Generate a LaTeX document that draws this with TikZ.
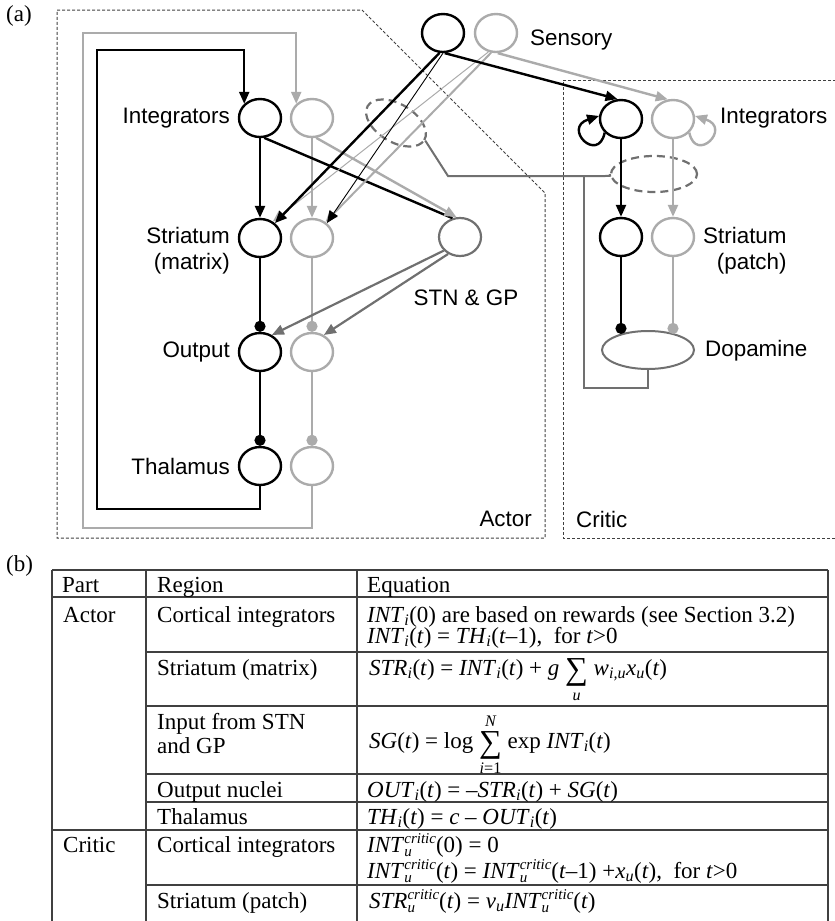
\documentclass[tikz,border=0pt]{standalone}
\usepackage{fontspec}
\usepackage{amsmath}
\setmainfont{Liberation Serif}
\setsansfont{Liberation Sans}
\usetikzlibrary{shapes.geometric,arrows.meta}
\definecolor{lg}{HTML}{ABABAB}
\definecolor{dg}{HTML}{707070}
\definecolor{bx}{HTML}{404040}
\newcommand\SF{\sffamily\fontsize{22.4}{26}\selectfont}
\newcommand\RM{\rmfamily\fontsize{23}{26}\selectfont}
\newcommand\tsum{\mathop{\text{\raisebox{-4pt}{\fontsize{32}{32}\selectfont ∑}}}\limits}
\newcommand\crit{\rlap{\raisebox{-4pt}{\fontsize{15}{15}\selectfont\itshape u}}\raisebox{8.5pt}{\fontsize{15}{15}\selectfont\itshape critic}}
\begin{document}
\begin{tikzpicture}[x=1pt,y=-1pt,
 arrtip/.style={-{Triangle[length=12pt,width=10pt]}},
 balltip/.style={-{Circle[length=11pt]}},
 nb/.style={ellipse, draw=black, line width=2.4pt, minimum width=42pt, minimum height=38pt, inner sep=0pt},
 ng/.style={nb, draw=lg},
 nd/.style={nb, draw=dg, line width=2.2pt},
 lb/.style={font=\SF, inner sep=0pt},
 cb/.style={line width=2.4pt, draw=black},
 cg/.style={line width=2.4pt, draw=lg},
 cd/.style={line width=2.2pt, draw=dg},
 dbox/.style={draw=bx, line width=1pt, dash pattern=on 3pt off 2pt},
 dell/.style={ellipse, draw=dg, line width=2.2pt, dash pattern=on 8pt off 5pt, inner sep=0pt},
 tx/.style={font=\RM, inner sep=0pt, anchor=base west},
 tl/.style={draw=black!75, line width=1.2pt},
]
\useasboundingbox (0,0) rectangle (835,921);

% ---------- panel (a) ----------
\node[font=\RM, inner sep=0pt, anchor=west] (la) at (6,16) {(a)};

\draw[dbox] (57,10) -- (362,10) -- (545,193) -- (545,538) -- (57,538) -- cycle;
\draw[dbox] (836,80) -- (563,80) -- (563,538) -- (836,538);
\node[lb, anchor=east] (lactor) at (532,519) {Actor};
\node[lb, anchor=west] (lcritic) at (576,519) {Critic};

% actor nodes
\node[nb] (ai) at (260,118) {};
\node[nb] (as) at (260,238) {};
\node[nb] (ao) at (260,352) {};
\node[nb] (at) at (260,466) {};
\node[ng] (bi) at (312,118) {};
\node[ng] (bs) at (312,238) {};
\node[ng] (bo) at (312,352) {};
\node[ng] (bt) at (312,466) {};
\node[nb] (sb) at (443,33) {};
\node[ng] (sg) at (496,33) {};
\node[nd] (stn) at (460,237) {};

% critic nodes
\node[nb] (ci) at (621,119) {};
\node[ng] (di) at (673,119) {};
\node[nb] (cs) at (621,237) {};
\node[ng] (ds) at (673,237) {};
\node[ellipse, draw=dg, line width=2pt, minimum width=92pt, minimum height=38pt, inner sep=0pt] (da) at (648,350) {};

% dashed synapse ellipses
\node[dell, minimum width=66pt, minimum height=38pt, rotate=-31] (e1) at (396,123) {};
\node[dell, minimum width=86pt, minimum height=36pt] (e2) at (654,174) {};

% labels
\node[lb, anchor=east] (lint) at (230,118) {Integrators};
\node[lb, anchor=east, align=right] (lstr) at (230,251) {Striatum\\(matrix)};
\node[lb, anchor=east] (lout) at (230,352) {Output};
\node[lb, anchor=east] (lth) at (230,466) {Thalamus};
\node[lb, anchor=west] (lsen) at (530,40) {Sensory};
\node[lb] (lstn) at (466,298) {STN \& GP};
\node[lb, anchor=west] (lcint) at (720,118) {Integrators};
\node[lb, anchor=west, align=right] (lpatch) at (703,251) {Striatum\\(patch)};
\node[lb, anchor=west] (ldop) at (705,351) {Dopamine};

% feedback loops
\draw[cg,arrtip] (bt.south) -- ++(0,42) -| (83,33) -| (bi.138);
\draw[cb,arrtip] (at.south) -- ++(0,23) -| (97,50) -| (ai.138);

% actor verticals
\draw[cb,arrtip] (ai) -- (as);
\draw[cg,arrtip] (bi) -- (bs);
\draw[cb,balltip] (as) -- (ao);
\draw[cg,balltip] (bs) -- (bo);
\draw[cb,balltip] (ao) -- (at);
\draw[cg,balltip] (bo) -- (bt);

% integrators -> STN
\draw[cb] (ai.-78) -- (stn.112);
\draw[cg,arrtip] (bi.-78) -- (stn.100);

% sensory -> striatum
\draw[draw=lg, line width=1pt, arrtip] (sg.-112) -- (as.52);
\draw[draw=lg, line width=2pt, arrtip] (sg.-104) -- (bs.50);
\draw[cb, arrtip] (sb.-100) -- (as.45);
\draw[draw=black, line width=0.9pt, arrtip] (sb.-90) -- (bs.45);

% STN -> output
\draw[cd, arrtip] (stn.-140) -- (ao.55);
\draw[cd, arrtip] (stn.-125) -- (bo.55);

% sensory -> critic integrators
\draw[cg,arrtip] (sg.-85) -- (di.105);
\draw[cb,arrtip] (sb.-85) -- (ci.100);

% critic
\draw[cb,arrtip] (ci) -- (cs);
\draw[cg,arrtip] (di) -- (ds);
\draw[cb,balltip] (cs) -- (cs |- da.150);
\draw[cg,balltip] (ds) -- (ds |- da.30);
\draw[cb,arrtip] (ci.-140) .. controls (598,164) and (562,128) .. (ci.172);
\draw[cg,arrtip] (di.-40) .. controls (696,164) and (732,128) .. (di.8);

% dopamine signal
\coordinate (j1) at (584,176);
\coordinate (j0) at (448,176);
\coordinate (j2) at (605,176);
\draw[draw=dg, line width=2pt] (da.south) -- ++(0,18) -| (j1);
\draw[draw=dg, line width=2pt] (e1.east) -- (j0) -- (j2) .. controls (611,176) .. (e2.west);

% ---------- panel (b) ----------
\node[font=\RM, inner sep=0pt, anchor=west] (lb2) at (6,566) {(b)};
\draw[tl] (52,570) -- (828,570);
\draw[tl] (52,597) -- (828,597);
\draw[tl] (52,830) -- (828,830);
\draw[tl] (146,652) -- (828,652);
\draw[tl] (146,706) -- (828,706);
\draw[tl] (146,774) -- (828,774);
\draw[tl] (146,802) -- (828,802);
\draw[tl] (146,885) -- (828,885);
\draw[tl] (52,570) -- (52,921);
\draw[tl] (146,570) -- (146,921);
\draw[tl] (357,570) -- (357,921);
\draw[tl] (828,570) -- (828,921);

\node[tx] (h1) at (62,592) {Part};
\node[tx] (h2) at (157,592) {Region};
\node[tx] (h3) at (367,592) {Equation};
\node[tx] (p1) at (63,622) {Actor};
\node[tx] (r1) at (157,622) {Cortical integrators};
\node[tx] (q1) at (367,622) {\textit{INT}\textsubscript{\textit{i}}(0) are based on rewards (see Section 3.2)};
\node[tx] (q2) at (367,643) {\textit{INT}\textsubscript{\textit{i}}(\textit{t}) = \textit{TH}\textsubscript{\textit{i}}(\textit{t}–1),\ \ for \textit{t}>0};
\node[tx] (r2) at (157,675) {Striatum (matrix)};
\node[tx] (q3) at (369,675) {\textit{STR}\textsubscript{\textit{i}}(\textit{t}) = \textit{INT}\textsubscript{\textit{i}}(\textit{t}) + \textit{g} $\tsum_{\textit{u}}$ \textit{w}\textsubscript{\textit{i,u}}\textit{x}\textsubscript{\textit{u}}(\textit{t})};
\node[tx] (r3) at (157,729) {Input from STN};
\node[tx] (r3b) at (157,753) {and GP};
\node[tx] (q4) at (369,748) {\textit{SG}(\textit{t}) = log $\tsum_{\textit{i}\text{=1}}^{\textit{N}}$ exp \textit{INT}\textsubscript{\textit{i}}(\textit{t})};
\node[tx] (r4) at (157,797) {Output nuclei};
\node[tx] (q5) at (367,797) {\textit{OUT}\textsubscript{\textit{i}}(\textit{t}) = –\textit{STR}\textsubscript{\textit{i}}(\textit{t}) + \textit{SG}(\textit{t})};
\node[tx] (r5) at (157,824) {Thalamus};
\node[tx] (q6) at (367,824) {\textit{TH}\textsubscript{\textit{i}}(\textit{t}) = \textit{c} – \textit{OUT}\textsubscript{\textit{i}}(\textit{t})};
\node[tx] (p2) at (63,852) {Critic};
\node[tx] (r6) at (157,852) {Cortical integrators};
\node[tx] (q7) at (367,852) {\textit{INT}\crit(0) = 0};
\node[tx] (q8) at (367,878) {\textit{INT}\crit(\textit{t}) = \textit{INT}\crit(\textit{t}–1) +\textit{x}\textsubscript{\textit{u}}(\textit{t}),\ \ for \textit{t}>0};
\node[tx] (r7) at (157,908) {Striatum (patch)};
\node[tx] (q9) at (369,908) {\textit{STR}\crit(\textit{t}) = \textit{v}\textsubscript{\textit{u}}\textit{INT}\crit(\textit{t})};
\end{tikzpicture}
\end{document}
